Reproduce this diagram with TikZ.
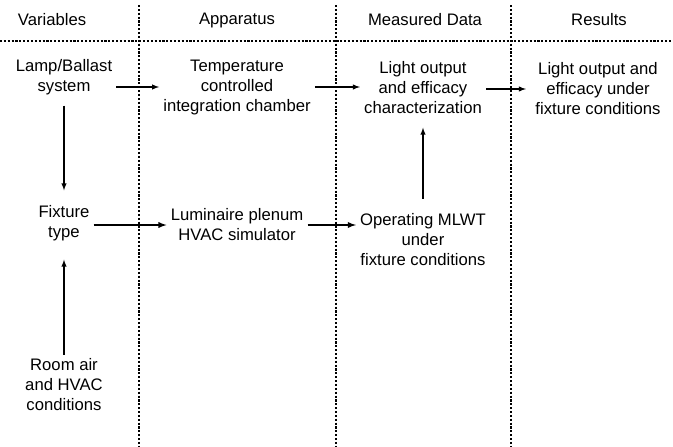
\documentclass[tikz,border=0pt]{standalone}
\usepackage{fontspec}
\setmainfont{Liberation Sans}
\usetikzlibrary{arrows}
\tikzset{>=latex}
\tikzset{
  txt/.style={align=center, inner sep=3pt, font=\fontsize{12.5}{15}\selectfont},
  flow/.style={->, thick},
  sep/.style={line width=0.9pt, dash pattern=on 1.6pt off 1.3pt}
}

\begin{document}
\begin{tikzpicture}[x=0.75pt, y=-0.75pt]
  \newcommand{\colA}{139}
  \newcommand{\colB}{336}
  \newcommand{\colC}{511}
  \newcommand{\divy}{41}

  \useasboundingbox (0,0) rectangle (673,446);

  % column separators and header rule
  \draw[sep] (\colA,5) -- (\colA,446);
  \draw[sep] (\colB,5) -- (\colB,446);
  \draw[sep] (\colC,5) -- (\colC,446);
  \draw[sep] (0,\divy) -- (673,\divy);

  \node[txt] (hvar) at (52,20) {Variables};
  \node[txt] (happ) at (237,20) {Apparatus};
  \node[txt] (hdat) at (425,20) {Measured Data};
  \node[txt] (hres) at (599,20) {Results};

  % upper row
  \node[txt] (lamp) at (64,77) {Lamp/Ballast\\system};
  \node[txt] (temp) at (237,87) {Temperature\\controlled\\integration chamber};
  \node[txt] (char) at (423,88) {Light output\\and efficacy\\characterization};
  \node[txt] (res) at (598,89) {Light output and\\efficacy under\\fixture conditions};

  % lower rows
  \node[txt] (fix) at (64,223) {Fixture\\type};
  \node[txt] (lum) at (237,225) {Luminaire plenum\\HVAC simulator};
  \node[txt] (op) at (423,240) {Operating MLWT\\under\\fixture conditions};
  \node[txt] (room) at (64,385) {Room air\\and HVAC\\conditions};

  \draw[flow] (lamp.east |- temp.west) -- (temp.west);
  \draw[flow] (temp.east) -- (temp.east -| char.west);
  \draw[flow, shorten >=4pt] (char.east |- res.west) -- (res.west);

  \draw[flow, shorten <=5pt, shorten >=8pt] (lamp.south) -- (fix.north);
  \draw[flow, shorten >=11pt] (room.north) -- (fix.south);
  \draw[flow, shorten <=8pt, shorten >=7pt] (op.north) -- (op.north |- char.south);

  \draw[flow, line width=1.1pt] (fix.east |- lum.west) -- (lum.west);
  \draw[flow, line width=1.1pt] (lum.east) -- (lum.east -| op.west);
\end{tikzpicture}
\end{document}
